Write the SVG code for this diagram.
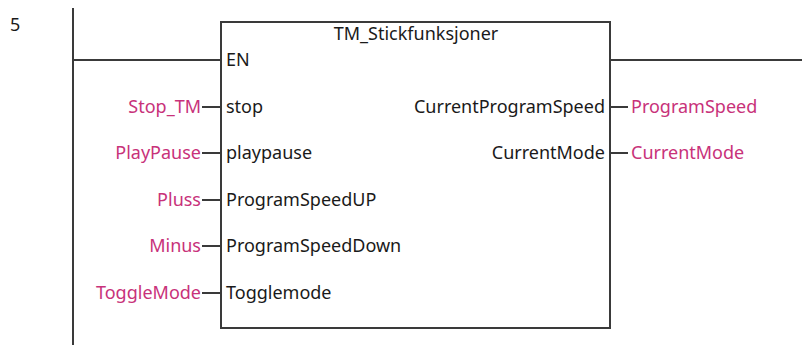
<svg xmlns="http://www.w3.org/2000/svg" width="802" height="345" viewBox="0 0 802 345">
<style>
.w{stroke:#3a3a3a;stroke-width:2;fill:none}
.t{font-family:"Noto Sans","Open Sans",sans-serif;font-size:18px;fill:#1a1a1a}
.v{font-family:"Noto Sans","Open Sans",sans-serif;font-size:18px;fill:#c8327a}
.r{text-anchor:end}
</style>
<rect width="802" height="345" fill="#fff"/>
<text class="t" x="10" y="31">5</text>
<g id="connectors">
<line class="w" x1="73" y1="8" x2="73" y2="345"/>
<line class="w" x1="73" y1="60" x2="221" y2="60"/>
<line class="w" x1="610" y1="60" x2="802" y2="60"/>
<line class="w" x1="202" y1="107" x2="221" y2="107"/>
<line class="w" x1="202" y1="153" x2="221" y2="153"/>
<line class="w" x1="202" y1="200" x2="221" y2="200"/>
<line class="w" x1="202" y1="246" x2="221" y2="246"/>
<line class="w" x1="202" y1="293" x2="221" y2="293"/>
<line class="w" x1="610" y1="107" x2="628" y2="107"/>
<line class="w" x1="610" y1="153" x2="628" y2="153"/>
</g>
<g id="block">
<rect class="w" x="221" y="22" width="389" height="306"/>
<text class="t" x="416" y="40" text-anchor="middle">TM_Stickfunksjoner</text>
<text class="t" x="226" y="66">EN</text>
<text class="t" x="226" y="113">stop</text>
<text class="t" x="226" y="159">playpause</text>
<text class="t" x="226" y="206">ProgramSpeedUP</text>
<text class="t" x="226" y="252">ProgramSpeedDown</text>
<text class="t" x="226" y="299">Togglemode</text>
<text class="t r" x="605" y="113">CurrentProgramSpeed</text>
<text class="t r" x="605" y="159">CurrentMode</text>
</g>
<g id="inputs">
<text class="v r" x="201" y="113">Stop_TM</text>
<text class="v r" x="201" y="159">PlayPause</text>
<text class="v r" x="201" y="206">Pluss</text>
<text class="v r" x="201" y="252">Minus</text>
<text class="v r" x="201" y="299">ToggleMode</text>
</g>
<g id="outputs">
<text class="v" x="631" y="113">ProgramSpeed</text>
<text class="v" x="631" y="159">CurrentMode</text>
</g>
</svg>
